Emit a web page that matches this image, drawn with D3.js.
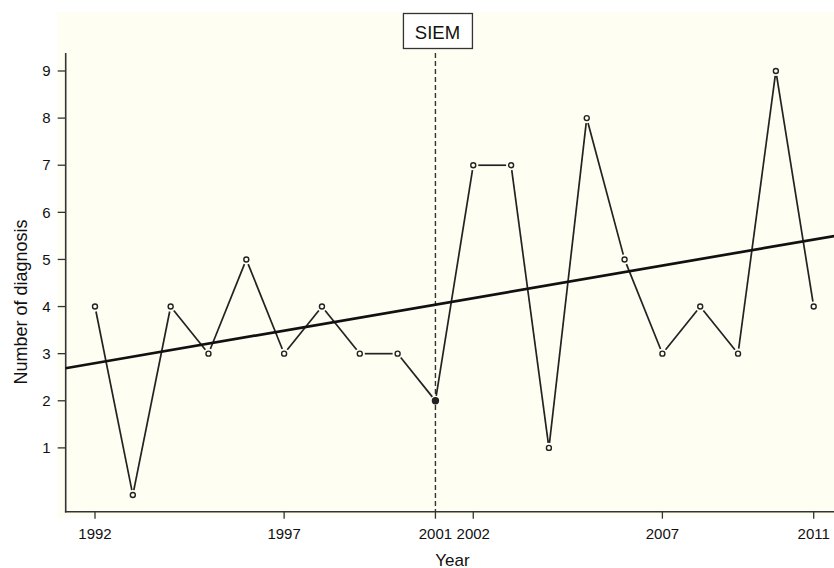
<!DOCTYPE html>
<html>
<head>
<meta charset="utf-8">
<script src="https://cdn.jsdelivr.net/npm/d3@7"></script>
<style>
  body { margin: 0; background: #fff; }
  svg { display: block; font-family: "Liberation Sans", Arial, sans-serif; }
</style>
</head>
<body>
<svg></svg>
<script>
const years = [1992, 1993, 1994, 1995, 1996, 1997, 1998, 1999, 2000, 2001,
               2002, 2003, 2004, 2005, 2006, 2007, 2008, 2009, 2010, 2011];
const diagnoses = [4, 0, 4, 3, 5, 3, 4, 3, 3, 2, 7, 7, 1, 8, 5, 3, 4, 3, 9, 4];
const yearTicks = [1992, 1997, 2001, 2002, 2007, 2011];
const countTicks = [1, 2, 3, 4, 5, 6, 7, 8, 9];
// fitted trend (start / end of the line)
const trendYears = [1991.22, 2011.56];
const trendValues = [2.69, 5.50];
const siemYear = 2001;

const width = 834, height = 568;
const svg = d3.select("svg").attr("width", width).attr("height", height);

const x = d3.scaleLinear().domain([1992, 2011]).range([95, 813.7]);
const y = d3.scaleLinear().domain([0, 9]).range([495, 71]);

const axisY = 511.7, axisX = 65.7, axisTop = 53;

// panel background
svg.append("rect")
    .attr("x", 57).attr("y", 12)
    .attr("width", width - 57).attr("height", 506)
    .attr("fill", "#fefef3");

// y axis
const gy = svg.append("g").attr("transform", `translate(${axisX},0)`);
gy.append("line").attr("y1", axisTop).attr("y2", axisY + 0.8)
    .attr("stroke", "#333").attr("stroke-width", 1.6);
gy.selectAll(".tk").data(countTicks).enter().append("line")
    .attr("x1", -8).attr("x2", 0)
    .attr("y1", d => y(d)).attr("y2", d => y(d))
    .attr("stroke", "#333").attr("stroke-width", 1.3);
gy.selectAll(".lb").data(countTicks).enter().append("text")
    .attr("x", -15).attr("y", d => y(d)).attr("dy", "0.35em")
    .attr("text-anchor", "end").attr("font-size", 15).attr("fill", "#111")
    .text(d => d);

// x axis
const gx = svg.append("g").attr("transform", `translate(0,${axisY})`);
gx.append("line").attr("x1", axisX - 0.8).attr("x2", width)
    .attr("stroke", "#333").attr("stroke-width", 1.6);
gx.selectAll(".tk").data(yearTicks).enter().append("line")
    .attr("x1", d => x(d)).attr("x2", d => x(d))
    .attr("y1", 0).attr("y2", 7)
    .attr("stroke", "#333").attr("stroke-width", 1.3);
gx.selectAll(".lb").data(yearTicks).enter().append("text")
    .attr("x", d => x(d)).attr("y", 22).attr("dy", "0.35em")
    .attr("text-anchor", "middle").attr("font-size", 15).attr("fill", "#111")
    .text(d => d);

// axis titles
svg.append("text")
    .attr("x", x(2001) + 17).attr("y", 565.5)
    .attr("text-anchor", "middle").attr("font-size", 17).attr("fill", "#111")
    .text("Year");
svg.append("text")
    .attr("transform", `translate(21,302) rotate(-90)`)
    .attr("dy", "0.35em")
    .attr("text-anchor", "middle").attr("font-size", 18).attr("fill", "#111")
    .text("Number of diagnosis");

// SIEM marker
svg.append("line")
    .attr("x1", x(siemYear)).attr("x2", x(siemYear))
    .attr("y1", axisTop).attr("y2", axisY)
    .attr("stroke", "#333").attr("stroke-width", 1.4)
    .attr("stroke-dasharray", "5,3");
svg.append("rect")
    .attr("x", x(siemYear) - 32).attr("y", 13.5)
    .attr("width", 69).attr("height", 35)
    .attr("fill", "#fff").attr("stroke", "#333").attr("stroke-width", 1.3);
svg.append("text")
    .attr("x", x(siemYear) + 2).attr("y", 38.5)
    .attr("text-anchor", "middle").attr("font-size", 18.5).attr("fill", "#111")
    .text("SIEM");

// data line, segments stop short of the markers
const pts = years.map((yr, i) => [x(yr), y(diagnoses[i])]);
const gap = 5;
const segs = d3.pairs(pts).map(([a, b]) => {
  const dx = b[0] - a[0], dy = b[1] - a[1];
  const len = Math.hypot(dx, dy);
  const ux = dx / len, uy = dy / len;
  return [a[0] + ux * gap, a[1] + uy * gap, b[0] - ux * gap, b[1] - uy * gap];
});
svg.append("g").selectAll("line").data(segs).enter().append("line")
    .attr("x1", d => d[0]).attr("y1", d => d[1])
    .attr("x2", d => d[2]).attr("y2", d => d[3])
    .attr("stroke", "#222").attr("stroke-width", 1.7);

// trend line
svg.append("line")
    .attr("x1", x(trendYears[0])).attr("y1", y(trendValues[0]))
    .attr("x2", x(trendYears[1])).attr("y2", y(trendValues[1]))
    .attr("stroke", "#111").attr("stroke-width", 2.7);

// markers
svg.append("g").selectAll("circle").data(years).enter().append("circle")
    .attr("cx", d => x(d))
    .attr("cy", (d, i) => y(diagnoses[i]))
    .attr("r", d => d === siemYear ? 3 : 2.5)
    .attr("fill", d => d === siemYear ? "#222" : "#fefef3")
    .attr("stroke", "#222").attr("stroke-width", 1.4);
</script>
</body>
</html>
